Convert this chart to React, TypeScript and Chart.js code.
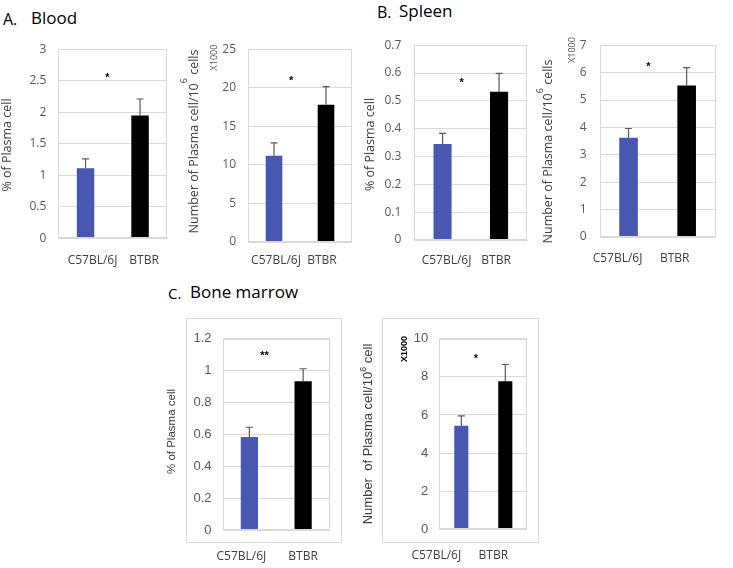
import React, { useEffect, useRef } from "react";
import { Chart, registerables } from "chart.js";
Chart.register(...registerables);

// ---------- data ----------
const categories = ["C57BL/6J", "BTBR"];

const bloodPct = [1.11, 1.95];
const bloodPctErr = [0.15, 0.26];
const bloodNum = [11.2, 17.8];
const bloodNumErr = [1.65, 2.35];
const spleenPct = [0.345, 0.533];
const spleenPctErr = [0.038, 0.066];
const spleenNum = [3.62, 5.53];
const spleenNumErr = [0.34, 0.65];
const marrowPct = [0.583, 0.934];
const marrowPctErr = [0.062, 0.078];
const marrowNum = [5.43, 7.77];
const marrowNumErr = [0.52, 0.88];

const sigLabels = ["*", "*", "*", "*", "**", "*"];
const sigValues = [2.59, 21.3, 0.574, 6.33, 1.11, 9.1];
const axisMax = [3, 25, 0.7, 7, 1.2, 10];
const axisStep = [0.5, 5, 0.1, 1, 0.2, 2];

const pctTitle = "% of Plasma cell";
const numTitleA = ["Number of Plasma cell/10", "6", " cells"];
const numTitleC = ["Number  of Plasma cell/10", "6", " cell"];
const scaleNote = "X1000";

// ---------- styles ----------
const OS = "'Open Sans', sans-serif";
const LS = "'Liberation Sans', Arial, sans-serif";
const BLUE = "#4858b0";
const BLACK = "#000000";
const GRID = "#d9d9d9";
const TICK = "#595959";
const TEXT = "#404040";

type TitlePart = { t: string; sup?: boolean };
type PanelCfg = {
  values: number[];
  errs: number[];
  idx: number;
  left: number;
  top: number;
  width: number;
  height: number;
  plot: { l: number; r: number; t: number; b: number };
  tickFont: string;
  tickSize: number;
  tickPad: number;
  xPad: number;
  labelShift: number[];
  title: TitlePart[];
  titleFont: string;
  titleSize: number;
  titleX: number;
  titleY: number;
  supShift: number;
  note?: { x: number; y: number; bold?: boolean };
  sigPos: number;
};

const pctParts = (): TitlePart[] => [{ t: pctTitle }];
const numParts = (arr: string[]): TitlePart[] => [
  { t: arr[0] },
  { t: arr[1], sup: true },
  { t: arr[2] },
];

const panels: PanelCfg[] = [
  {
    values: bloodPct, errs: bloodPctErr, idx: 0,
    left: 0, top: 30, width: 176, height: 245,
    plot: { l: 58.3, r: 167.3, t: 38.3, b: 238.3 },
    tickFont: OS, tickSize: 12, tickPad: 12, xPad: 15, labelShift: [7, 4],
    title: pctParts(), titleFont: OS, titleSize: 12.5, titleX: 7, titleY: 145, supShift: 0,
    sigPos: 0.4,
  },
  {
    values: bloodNum, errs: bloodNumErr, idx: 1,
    left: 180, top: 30, width: 180, height: 245,
    plot: { l: 248, r: 352, t: 41, b: 242 },
    tickFont: OS, tickSize: 12, tickPad: 12, xPad: 11, labelShift: [2, -4],
    title: numParts(numTitleA), titleFont: OS, titleSize: 12.5, titleX: 194, titleY: 141.5, supShift: 10,
    note: { x: 214.5, y: 57.5 },
    sigPos: 0.33,
  },
  {
    values: spleenPct, errs: spleenPctErr, idx: 2,
    left: 362, top: 25, width: 172, height: 250,
    plot: { l: 414.3, r: 527.3, t: 33, b: 240 },
    tickFont: OS, tickSize: 12, tickPad: 13, xPad: 13, labelShift: [4, -3],
    title: pctParts(), titleFont: OS, titleSize: 12.5, titleX: 370, titleY: 144.5, supShift: 0,
    sigPos: 0.34,
  },
  {
    values: spleenNum, errs: spleenNumErr, idx: 3,
    left: 536, top: 25, width: 190, height: 250,
    plot: { l: 599.5, r: 715.7, t: 35, b: 237 },
    tickFont: OS, tickSize: 12, tickPad: 13, xPad: 14, labelShift: [-11, -12],
    title: numParts(numTitleA), titleFont: OS, titleSize: 12.5, titleX: 548, titleY: 151.5, supShift: 8,
    note: { x: 572, y: 50 },
    sigPos: 0.34,
  },
  {
    values: marrowPct, errs: marrowPctErr, idx: 4,
    left: 160, top: 320, width: 178, height: 245,
    plot: { l: 222.5, r: 330, t: 331.7, b: 530 },
    tickFont: LS, tickSize: 13, tickPad: 11, xPad: 19, labelShift: [-8, 0],
    title: pctParts(), titleFont: LS, titleSize: 11.5, titleX: 171.7, titleY: 431.5, supShift: 0,
    sigPos: 0.28,
  },
  {
    values: marrowNum, errs: marrowNumErr, idx: 5,
    left: 358, top: 320, width: 178, height: 245,
    plot: { l: 439.3, r: 527.3, t: 331.7, b: 529.3 },
    tickFont: LS, tickSize: 13, tickPad: 11, xPad: 19, labelShift: [-25, -12],
    title: numParts(numTitleC), titleFont: LS, titleSize: 13, titleX: 368.3, titleY: 434, supShift: 5,
    note: { x: 405, y: 349, bold: true },
    sigPos: 0.33,
  },
];

const CAT_SIZE = 12;

function makeDecor(p: PanelCfg) {
  return {
    id: "decor" + p.idx,
    afterDatasetsDraw(chart: any) {
      const { ctx, chartArea: a, scales } = chart;
      const x = scales.x;
      const y = scales.y;
      ctx.save();
      // plot border
      ctx.strokeStyle = GRID;
      ctx.lineWidth = 1;
      const L = Math.round(a.left) + 0.5;
      const T = Math.round(a.top) + 0.5;
      const R = Math.round(a.right) - 0.5;
      const B = Math.round(a.bottom) - 0.5;
      ctx.strokeRect(L, T, R - L, B - T);

      // error bars (upper only)
      const meta = chart.getDatasetMeta(0);
      ctx.strokeStyle = TICK;
      ctx.lineWidth = 1.2;
      meta.data.forEach((bar: any, i: number) => {
        const xc = bar.x;
        const y0 = y.getPixelForValue(p.values[i]);
        const y1 = y.getPixelForValue(p.values[i] + p.errs[i]);
        ctx.beginPath();
        ctx.moveTo(xc, y0);
        ctx.lineTo(xc, y1);
        ctx.moveTo(xc - 3.5, y1);
        ctx.lineTo(xc + 3.5, y1);
        ctx.stroke();
      });

      // category labels (from the category scale, with small layout shifts)
      ctx.fillStyle = TEXT;
      ctx.font = `${CAT_SIZE}px ${OS}`;
      ctx.textAlign = "center";
      ctx.textBaseline = "middle";
      categories.forEach((c, i) => {
        const px = x.getPixelForValue(i) + (p.labelShift[i] || 0);
        ctx.fillText(c, px, a.bottom + p.xPad + (CAT_SIZE * 1.2) / 2);
      });

      // significance mark
      const x0 = x.getPixelForValue(0);
      const x1 = x.getPixelForValue(1);
      const sx = x0 + p.sigPos * (x1 - x0);
      const sy = y.getPixelForValue(sigValues[p.idx]);
      ctx.fillStyle = "#000";
      ctx.font = `bold 11px ${LS}`;
      ctx.textAlign = "center";
      ctx.textBaseline = "alphabetic";
      ctx.fillText(sigLabels[p.idx], sx, sy + 6);

      // y title (rotated, with optional superscript)
      const tx = p.titleX - p.left;
      const ty = p.titleY - p.top;
      const fs = p.titleSize;
      const supFs = Math.round(fs * 0.7);
      const widths = p.title.map((part) => {
        ctx.font = `${part.sup ? supFs : fs}px ${p.titleFont}`;
        return ctx.measureText(part.t).width;
      });
      const total = widths.reduce((s, w) => s + w, 0);
      ctx.translate(tx, ty);
      ctx.rotate(-Math.PI / 2);
      ctx.fillStyle = TEXT;
      ctx.textAlign = "left";
      ctx.textBaseline = "middle";
      let cx = -total / 2;
      p.title.forEach((part, i) => {
        ctx.font = `${part.sup ? supFs : fs}px ${p.titleFont}`;
        ctx.fillText(part.t, cx, part.sup ? -p.supShift : 0);
        cx += widths[i];
      });
      ctx.restore();

      // scale note
      if (p.note) {
        ctx.save();
        ctx.translate(p.note.x - p.left, p.note.y - p.top);
        ctx.rotate(-Math.PI / 2);
        ctx.fillStyle = p.note.bold ? "#000" : TICK;
        ctx.font = `${p.note.bold ? "bold " : ""}9px ${p.note.bold ? LS : OS}`;
        ctx.textAlign = "center";
        ctx.textBaseline = "middle";
        ctx.fillText(scaleNote, 0, 0);
        ctx.restore();
      }
    },
  };
}

function Panel({ p }: { p: PanelCfg }) {
  const ref = useRef<HTMLCanvasElement>(null);
  useEffect(() => {
    const canvas = ref.current!;
    const chart = new Chart(canvas, {
      type: "bar",
      data: {
        labels: categories,
        datasets: [
          {
            data: p.values,
            backgroundColor: [BLUE, BLACK],
            borderWidth: 0,
            barPercentage: 0.32,
            categoryPercentage: 1,
          },
        ],
      },
      options: {
        responsive: false,
        animation: false,
        devicePixelRatio: 1,
        layout: {
          padding: {
            left: 0,
            top: p.plot.t - p.top,
            right: p.left + p.width - p.plot.r,
            bottom: 0,
          },
        },
        plugins: { legend: { display: false }, tooltip: { enabled: false } },
        scales: {
          x: {
            grid: { display: false, drawTicks: false },
            border: { display: false },
            ticks: { display: false },
            afterFit: (s: any) => {
              s.height = p.top + p.height - p.plot.b;
            },
          },
          y: {
            min: 0,
            max: axisMax[p.idx],
            ticks: {
              stepSize: axisStep[p.idx],
              font: { family: p.tickFont, size: p.tickSize },
              color: TICK,
              padding: p.tickPad,
              callback: (v: any) => String(Math.round(Number(v) * 100) / 100),
            },
            grid: { color: GRID, drawTicks: false, lineWidth: 1 },
            border: { display: false },
            afterFit: (s: any) => {
              s.width = p.plot.l - p.left;
            },
          },
        },
      },
      plugins: [makeDecor(p)],
    } as any);
    return () => chart.destroy();
  }, []);
  return (
    <canvas
      ref={ref}
      width={p.width}
      height={p.height}
      style={{ position: "absolute", left: p.left, top: p.top, width: p.width, height: p.height }}
    />
  );
}

const headStyle = (left: number, top: number, size: number): React.CSSProperties => ({
  position: "absolute",
  left,
  top,
  fontFamily: OS,
  fontSize: size,
  lineHeight: "20px",
  color: "#000",
  whiteSpace: "nowrap",
});

export default function App() {
  return (
    <div
      style={{
        position: "absolute",
        left: 0,
        top: 0,
        width: 733,
        height: 568,
        background: "#fff",
        overflow: "hidden",
      }}
    >
      <div style={{ position: "absolute", left: 186, top: 318, width: 156, height: 225, border: `1px solid ${GRID}`, boxSizing: "border-box" }} />
      <div style={{ position: "absolute", left: 382, top: 318, width: 157, height: 225, border: `1px solid ${GRID}`, boxSizing: "border-box" }} />
      <div style={headStyle(3, 8.5, 16)}>A.</div>
      <div style={headStyle(31, 8.3, 17)}>Blood</div>
      <div style={headStyle(377, 1.5, 16)}>B.</div>
      <div style={headStyle(399, 1.2, 17)}>Spleen</div>
      <div style={headStyle(168, 283, 15)}>C.</div>
      <div style={headStyle(190, 282, 17)}>Bone marrow</div>
      {panels.map((p) => (
        <Panel key={p.idx} p={p} />
      ))}
    </div>
  );
}
